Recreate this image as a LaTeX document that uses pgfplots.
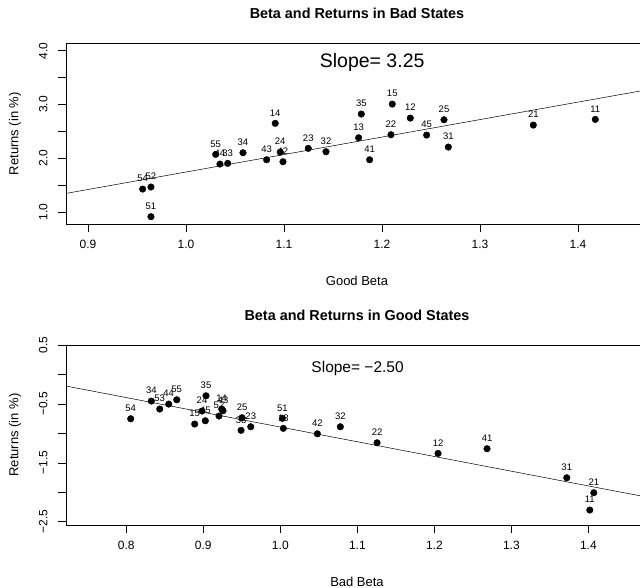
\documentclass[border=0pt]{standalone}
\usepackage{fontspec}
\setmainfont{Liberation Sans}
\usepackage{pgfplots}
\pgfplotsset{compat=1.18}
\usepackage{pgfplotstable}

\pgfplotstableread{
x y lab
0.9558 1.427 54
0.9643 1.465 52
0.9643 0.913 51
1.0303 2.072 55
1.0347 1.892 44
1.0426 1.905 33
1.0582 2.102 34
1.0823 1.972 43
1.0962 2.115 24
1.0990 1.935 42
1.0911 2.649 14
1.1248 2.184 23
1.1429 2.121 32
1.1762 2.381 13
1.1789 2.822 35
1.1874 1.972 41
1.2105 3.007 15
1.2092 2.437 22
1.2289 2.747 12
1.2456 2.431 45
1.2633 2.716 25
1.2677 2.208 31
1.3544 2.617 21
1.4177 2.723 11
}\badtab

\pgfplotstableread{
x y lab
0.8057 -0.752 54
0.8325 -0.452 34
0.8434 -0.587 53
0.8551 -0.503 44
0.8655 -0.430 55
0.9035 -0.362 35
0.8983 -0.621 24
0.8888 -0.842 15
0.9026 -0.786 45
0.9204 -0.706 52
0.9239 -0.587 14
0.9256 -0.616 43
0.9503 -0.735 25
0.9490 -0.949 33
0.9616 -0.888 23
1.0026 -0.745 51
1.0039 -0.915 13
1.0481 -1.007 42
1.0779 -0.888 32
1.1256 -1.160 22
1.2048 -1.340 12
1.2684 -1.261 41
1.3719 -1.754 31
1.4070 -2.008 21
1.4018 -2.302 11
}\goodtab

\begin{document}
\begin{tikzpicture}
\pgfplotsset{
  common/.style={
    scale only axis, width=574bp,
    axis line style={draw=none},
    tick align=outside, xtick pos=bottom, ytick pos=left,
    major tick length=8bp,
    tick style={black, line width=0.5bp},
    /pgf/number format/assume math mode=true,
    ticklabel style={font=\fontsize{12bp}{14bp}\selectfont},
    label style={font=\fontsize{13bp}{15bp}\selectfont},
    title style={font=\bfseries\fontsize{14.4bp}{16bp}\selectfont, at={(axis description cs:0.5,1)}, anchor=center, yshift=24bp, xshift=4bp},
    xlabel style={at={(axis description cs:0.5,0)}, anchor=center, yshift=-57bp, xshift=4bp},
    ylabel style={at={([xshift=-51bp]axis description cs:0,0.5)}, anchor=center},
    yticklabel style={rotate=90, anchor=south, yshift=7bp},
    xticklabel style={anchor=north, yshift=-5bp},
    clip=false,
  },
  pts/.style={only marks, mark=*, mark size=3.3bp, black,
    point meta=explicit symbolic, nodes near coords,
    nodes near coords style={font=\fontsize{9.5bp}{10bp}\selectfont, anchor=south, inner sep=0pt, yshift=7bp}},
}
\begin{axis}[common,
  at={(66bp,-224bp)}, anchor=south west, height=180.7bp,
  xmin=0.8776, xmax=1.4633, ymin=0.777, ymax=4.138,
  xtick={0.9,1.0,1.1,1.2,1.3,1.4}, xticklabels={0.9,1.0,1.1,1.2,1.3,1.4},
  ytick={1,1.5,2,2.5,3,3.5,4}, yticklabels={1.0,,2.0,,3.0,,4.0},
  title={Beta and Returns in Bad States},
  xlabel={Good Beta}, ylabel={Returns (in \%)},
]
\draw[black, line width=0.5bp] (rel axis cs:1,1) -- (rel axis cs:0,1) -- (rel axis cs:0,0) -- (rel axis cs:1,0);
\addplot[black, line width=0.5bp, no marks] coordinates {(0.8776,1.346) (1.4633,3.250)};
\addplot[pts] table[x=x, y=y, meta=lab] {\badtab};
\node[font=\fontsize{19.5bp}{21bp}\selectfont] at (axis cs:1.19,3.79) {Slope= 3.25};
\end{axis}
\begin{axis}[common,
  at={(66bp,-525bp)}, anchor=south west, height=180bp,
  xmin=0.7217, xmax=1.467, ymin=-2.556, ymax=0.5,
  xtick={0.8,0.9,1.0,1.1,1.2,1.3,1.4}, xticklabels={0.8,0.9,1.0,1.1,1.2,1.3,1.4},
  ytick={-2.5,-2,-1.5,-1,-0.5,0,0.5}, yticklabels={−2.5,,−1.5,,−0.5,,0.5},
  title={Beta and Returns in Good States},
  xlabel={Bad Beta}, ylabel={Returns (in \%)},
]
\draw[black, line width=0.5bp] (rel axis cs:1,1) -- (rel axis cs:0,1) -- (rel axis cs:0,0) -- (rel axis cs:1,0);
\addplot[black, line width=0.5bp, no marks] coordinates {(0.7217,-0.197) (1.467,-2.060)};
\addplot[pts] table[x=x, y=y, meta=lab] {\goodtab};
\node[font=\fontsize{15.5bp}{17bp}\selectfont] at (axis cs:1.1003,0.10) {Slope= −2.50};
\end{axis}
\pgfresetboundingbox
\path[use as bounding box] (0,0) rectangle (640bp,-588bp);
\end{tikzpicture}
\end{document}
